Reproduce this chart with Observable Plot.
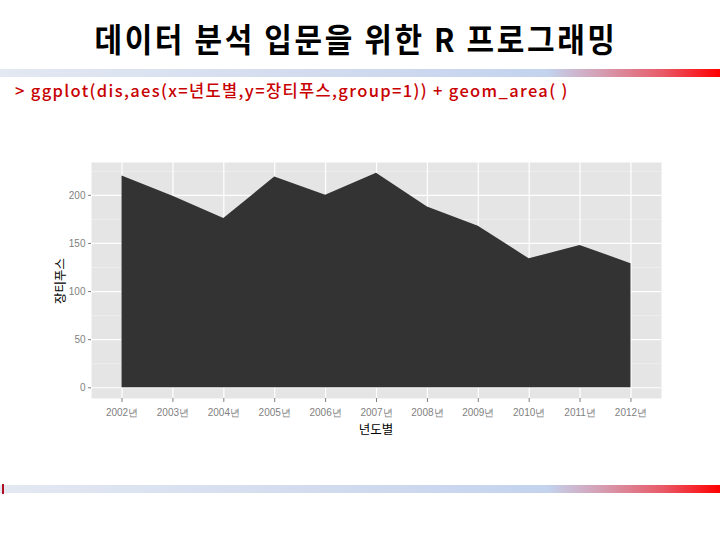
<!DOCTYPE html>
<html>
<head>
<meta charset="utf-8">
<script src="https://cdn.jsdelivr.net/npm/d3@7"></script>
<script src="https://cdn.jsdelivr.net/npm/@observablehq/plot@0.6"></script>
<style>
  html, body { margin: 0; padding: 0; background: #fff; }
  #page { position: relative; width: 720px; height: 540px; overflow: hidden; background: #fff; }
  #title { position: absolute; left: 0; width: 712px; top: 16px; text-align: center;
    font-family: "Noto Sans CJK KR", sans-serif; font-weight: 700; font-size: 30px; letter-spacing: 2.6px; color: #000; line-height: 44px; white-space: nowrap;
    transform: scaleY(1.08); }
  .bar { position: absolute; left: 0; width: 720px; height: 8px;
    background: linear-gradient(to right, #e3e8f2 0%, #d0daee 50%, #c3d3ee 76%, #d69aae 84%, #e85a68 92%, #ff0000 100%); }
  #code { position: absolute; left: 15px; top: 77px; font-family: "Noto Sans CJK KR", sans-serif; font-weight: 500;
    font-size: 16.5px; letter-spacing: 1.35px; color: #c80000; white-space: nowrap; line-height: 26px; }
  #chart { position: absolute; left: 40px; top: 140px; }
  .axtitle { position: absolute; font-family: "Noto Sans CJK KR", sans-serif; font-size: 12.5px; color: #000; white-space: nowrap; }
  #mark { position: absolute; left: 2px; top: 484px; width: 2px; height: 10px; background: #b01020; }
</style>
</head>
<body>
<div id="page">
  <div id="title">데이터 분석 입문을 위한 R 프로그래밍</div>
  <div class="bar" style="top:69px"></div>
  <div id="code">&gt; ggplot(dis,aes(x=년도별,y=장티푸스,group=1)) + geom_area( )</div>
  <div id="chart"></div>
  <div class="axtitle" id="ytitle" style="left:59px; top:281px; transform: translate(-50%,-50%) rotate(-90deg);">장티푸스</div>
  <div class="axtitle" id="xtitle" style="left:376px; top:428px; transform: translate(-50%,-50%);">년도별</div>
  <div class="bar" style="top:485px"></div>
  <div id="mark"></div>
</div>
<script>
const years = [2002, 2003, 2004, 2005, 2006, 2007, 2008, 2009, 2010, 2011, 2012];
const typhoid = [220, 199, 176, 219, 200, 223, 188, 168, 134, 148, 129];
const yMajor = [0, 50, 100, 150, 200];
const yMinor = [25, 75, 125, 175, 225];
const yearSuffix = "년";

const data = years.map((year, i) => ({year, value: typhoid[i]}));
const yMax = d3.max(typhoid);
const pad = yMax * 0.05;

const chart = Plot.plot({
  width: 640,
  height: 310,
  marginLeft: 51,
  marginRight: 19,
  marginTop: 22,
  marginBottom: 52,
  x: {domain: [years[0] - 0.6, years[years.length - 1] + 0.6]},
  y: {domain: [-pad, yMax + pad]},
  style: {background: "transparent", color: "#7f7f7f", fontFamily: "Liberation Sans, Arial, sans-serif", fontSize: "10px"},
  marks: [
    Plot.frame({fill: "#e5e5e5", stroke: "none"}),
    Plot.gridY(yMinor, {stroke: "#f2f2f2", strokeOpacity: 1, strokeWidth: 0.7}),
    Plot.gridY(yMajor, {stroke: "#ffffff", strokeOpacity: 1, strokeWidth: 1.2}),
    Plot.gridX(years, {stroke: "#ffffff", strokeOpacity: 1, strokeWidth: 1.2}),
    Plot.areaY(data, {x: "year", y: "value", fill: "#333333"}),
    Plot.axisY(yMajor, {tickSize: 3, tickPadding: 3, label: null}),
    Plot.axisX(years, {tickSize: 4, tickPadding: 6, tickFormat: d => d + yearSuffix, label: null})
  ]
});
document.getElementById("chart").appendChild(chart);
</script>
</body>
</html>
